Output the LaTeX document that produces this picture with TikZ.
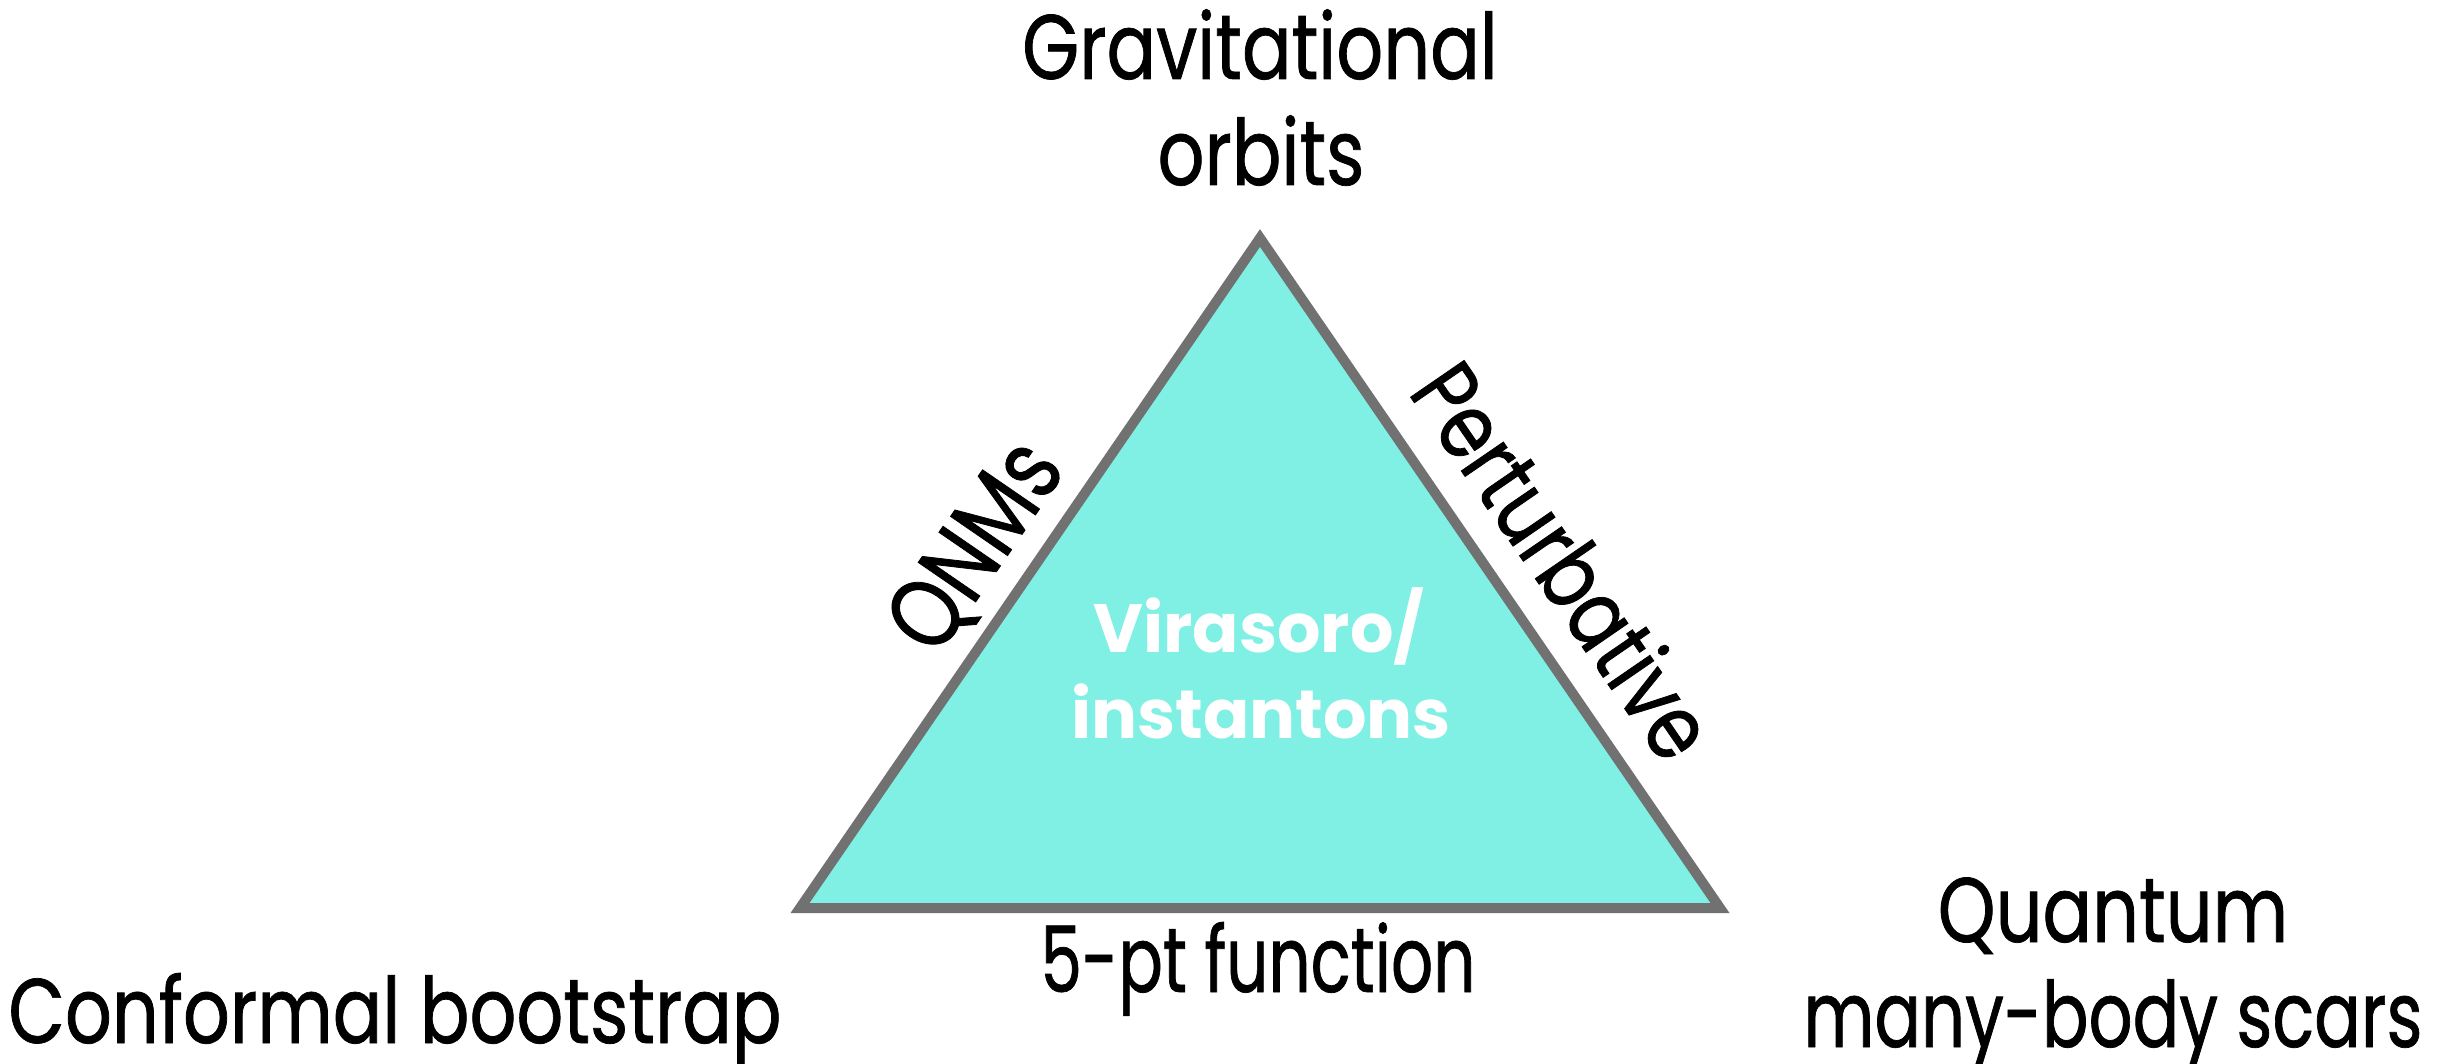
\documentclass[tikz,border=0pt]{standalone}
\usepackage{fontspec}
\setmainfont{Poppins}[FakeStretch=0.80, FakeBold=0.8]
\newfontfamily\virfont{Poppins}
\definecolor{trifill}{HTML}{7FF0E3}
\definecolor{triedge}{HTML}{717171}
\begin{document}
\begin{tikzpicture}[x=0.3pt,y=-0.3pt,
  lbl/.style={font=\fontsize{27.5}{32}\selectfont, inner sep=0pt, anchor=base},
  sidelbl/.style={font=\fontsize{28}{32}\selectfont, inner sep=0pt, anchor=center},
  inlbl/.style={font=\virfont\fontsize{20.5}{24}\selectfont\bfseries, text=white, inner sep=0pt, anchor=base}]
\useasboundingbox (0,0) rectangle (2451,1064);
\coordinate (A) at (1260,238);
\coordinate (B) at (800,908);
\coordinate (C) at (1720,908);
\draw[triedge, line width=3pt, fill=trifill, line join=miter] (A) -- (B) -- (C) -- cycle;
\node[lbl] (grav) at (1260,79) {Gravitational};
\node[lbl] (orb) at (1261,185) {orbits};
\node[lbl] (conf) at (395,1043) {Conformal bootstrap};
\node[lbl] (five) at (1258,992) {\scalebox{0.9}[1]{5-pt function}};
\node[lbl] (quant) at (2113,942) {Quantum};
\node[lbl] (scars) at (2113,1047) {\scalebox{0.94}[1]{many-body scars}};
\node[sidelbl, font=\fontsize{30}{34}\selectfont, rotate=55.5] (qnm) at (978,548) {QNMs};
\node[sidelbl, rotate=-55.5] (pert) at (1565,560) {Perturbative};
\node[inlbl] (vir) at (1259,652) {Virasoro/};
\node[inlbl] (inst) at (1261,738) {instantons};
\end{tikzpicture}
\end{document}
